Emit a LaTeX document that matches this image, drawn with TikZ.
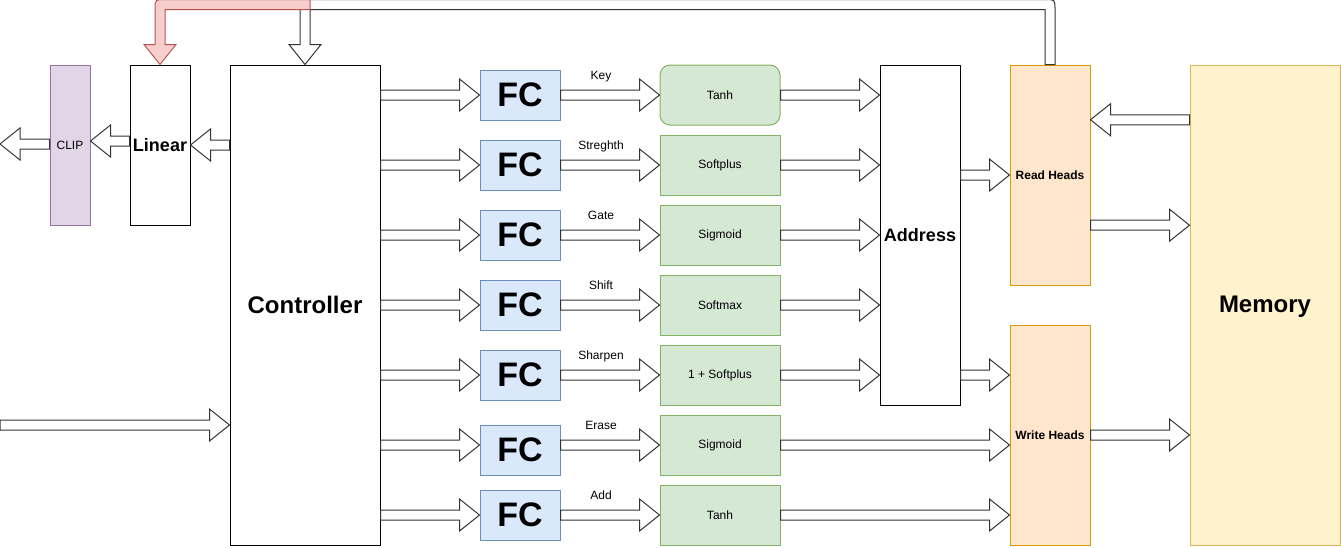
\documentclass[tikz,border=0pt]{standalone}
\usepackage{fontspec}
\setmainfont{Liberation Sans}
\usetikzlibrary{calc}
\definecolor{fcfill}{HTML}{DAE8FC}\definecolor{fcline}{HTML}{6C8EBF}
\definecolor{gfill}{HTML}{D5E8D4}\definecolor{gline}{HTML}{82B366}
\definecolor{hfill}{HTML}{FFE6CC}\definecolor{hline}{HTML}{D79B00}
\definecolor{mfill}{HTML}{FFF2CC}\definecolor{mline}{HTML}{D6B656}
\definecolor{pfill}{HTML}{E1D5E7}\definecolor{pline}{HTML}{9673A6}
\definecolor{rfill}{HTML}{F8CECC}\definecolor{rline}{HTML}{B85450}
\newcommand\fs[1]{\fontsize{#1}{#1}\selectfont}
\newcommand\rflex[3][]{\draw[flexarrow,#1] let \p1=#2, \p2=#3 in
  (\x1,\y2+5pt) -- (\x2-20pt,\y2+5pt) -- (\x2-20pt,\y2+16pt) -- (\x2,\y2)
  -- (\x2-20pt,\y2-16pt) -- (\x2-20pt,\y2-5pt) -- (\x1,\y2-5pt) -- cycle;}
\newcommand\lflex[3][]{\draw[flexarrow,#1] let \p1=#2, \p2=#3 in
  (\x1,\y2+5pt) -- (\x2+20pt,\y2+5pt) -- (\x2+20pt,\y2+16pt) -- (\x2,\y2)
  -- (\x2+20pt,\y2-16pt) -- (\x2+20pt,\y2-5pt) -- (\x1,\y2-5pt) -- cycle;}
\begin{document}
\begin{tikzpicture}[x=1pt,y=-1pt,
  box/.style={draw,line width=1pt,inner sep=0pt,align=center},
  plain/.style={box,fill=white,draw=black},
  fcbox/.style={box,fill=fcfill,draw=fcline,minimum width=80pt,minimum height=50pt,font=\fs{34}\bfseries},
  gbox/.style={box,fill=gfill,draw=gline,minimum width=120pt,minimum height=60pt,font=\fs{12}},
  hbox/.style={box,fill=hfill,draw=hline,minimum width=80pt,minimum height=220pt,font=\fs{12}\bfseries},
  lab/.style={font=\fs{12},inner sep=0pt,text depth=0pt},
  flexarrow/.style={draw=black!80,fill=white,line width=1pt,line join=miter}]
\useasboundingbox (0,0) rectangle (1341,547);

% blocks
\node[box,fill=pfill,draw=pline,minimum width=40pt,minimum height=160pt,font=\fs{12}] (clip) at (70,145) {CLIP};
\node[plain,minimum width=60pt,minimum height=160pt,font=\fs{18}\bfseries] (lin) at (160,145) {Linear};
\node[plain,minimum width=150pt,minimum height=480pt,font=\fs{24}\bfseries] (ctrl) at (305,305) {Controller};

\node[fcbox] (fc1) at (520,95) {FC};
\node[fcbox] (fc2) at (520,165) {FC};
\node[fcbox] (fc3) at (520,235) {FC};
\node[fcbox] (fc4) at (520,305) {FC};
\node[fcbox] (fc5) at (520,375) {FC};
\node[fcbox] (fc6) at (520,450) {FC};
\node[fcbox] (fc7) at (520,515) {FC};

\node[gbox,rounded corners=10pt] (g1) at (720,95) {Tanh};
\node[gbox] (g2) at (720,165) {Softplus};
\node[gbox] (g3) at (720,235) {Sigmoid};
\node[gbox] (g4) at (720,305) {Softmax};
\node[gbox] (g5) at (720,375) {1 + Softplus};
\node[gbox] (g6) at (720,445) {Sigmoid};
\node[gbox] (g7) at (720,515) {Tanh};

\node[lab] (l1) at (601,75) {Key};
\node[lab] (l2) at (601,145) {Streghth};
\node[lab] (l3) at (601,215) {Gate};
\node[lab] (l4) at (601,285) {Shift};
\node[lab] (l5) at (601,355) {Sharpen};
\node[lab] (l6) at (601,425) {Erase};
\node[lab] (l7) at (601,495) {Add};

\node[plain,minimum width=80pt,minimum height=340pt,font=\fs{18}\bfseries] (addr) at (920,235) {Address};
\node[hbox] (rh) at (1050,175) {Read Heads};
\node[hbox] (wh) at (1050,435) {Write Heads};
\node[box,fill=mfill,draw=mline,minimum width=150pt,minimum height=480pt,font=\fs{24}\bfseries,text depth=1pt] (mem) at (1265,305) {Memory};

\coordinate (in) at (0,425);
\coordinate (out) at (0,144);
\coordinate (rhin) at ($(rh.north east)!0.25!(rh.south east)$);
\coordinate (rhout) at ($(rh.north east)!0.7273!(rh.south east)$);

% controller -> FC -> activation
\foreach \i in {1,...,7}{
  \rflex{(ctrl.east |- g\i)}{(fc\i.west |- g\i)}
  \rflex{(fc\i.east |- g\i)}{(g\i.west)}
}
% activation -> address
\foreach \i in {1,...,5}{
  \rflex{(g\i.east)}{(addr.west |- g\i)}
}
\rflex{(addr.east |- rh)}{(rh.west)}
\rflex{(addr.east |- g5)}{(wh.west |- g5)}
\rflex{(g6.east)}{(wh.west |- g6)}
\rflex{(g7.east)}{(wh.west |- g7)}
\lflex{(mem.west |- rhin)}{(rhin)}
\rflex{(rhout)}{(mem.west |- rhout)}
\rflex{(wh.east)}{(mem.west |- wh)}
\rflex{(in)}{(ctrl.west |- in)}
\lflex{(ctrl.west |- lin)}{(lin.east)}
\lflex{($(lin.west)+(0,-4)$)}{($(clip.east)+(0,-4)$)}
\lflex{(clip.west |- out)}{(out)}

% feedback arrows
\draw[flexarrow] let \p1=(rh.north), \p2=(ctrl.north) in
  (\x1-5pt,\y1) -- (\x1-5pt,\y1+55pt) -- (\x2+5pt,\y1+55pt) -- (\x2+5pt,\y2+20pt)
  -- (\x2+16pt,\y2+20pt) -- (\x2,\y2) -- (\x2-16pt,\y2+20pt) -- (\x2-5pt,\y2+20pt)
  -- (\x2-5pt,\y1+65pt) -- (\x1-5pt,\y1+65pt) .. controls (\x1+5pt,\y1+65pt) .. (\x1+5pt,\y1+55pt)
  -- (\x1+5pt,\y1) -- cycle;
\draw[flexarrow,draw=rline,fill=rfill] let \p1=(rh.north), \p2=(ctrl.north), \p3=(lin.north) in
  (\x2+5pt,\y1+55pt) -- (\x2+5pt,\y1+65pt) -- (\x3+5pt,\y1+65pt) .. controls (\x3-5pt,\y1+65pt) .. (\x3-5pt,\y1+55pt)
  -- (\x3-5pt,\y3+20pt) -- (\x3-16pt,\y3+20pt) -- (\x3,\y3) -- (\x3+16pt,\y3+20pt)
  -- (\x3+5pt,\y3+20pt) -- (\x3+5pt,\y1+55pt) -- cycle;
\end{tikzpicture}
\end{document}
